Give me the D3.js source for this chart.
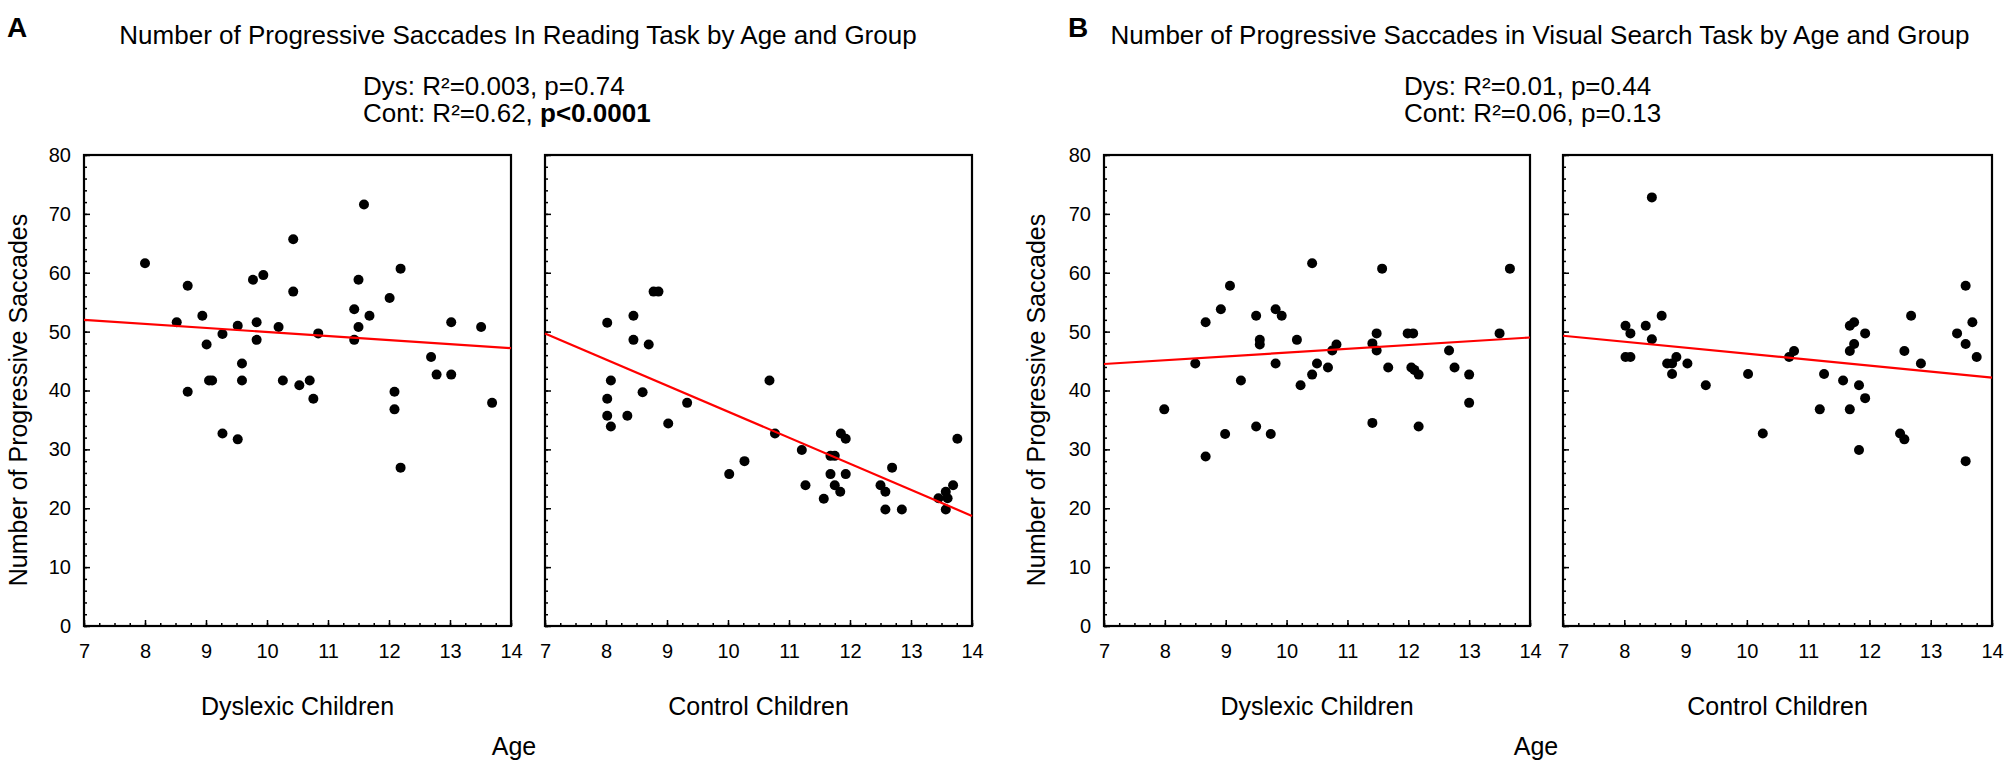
<!DOCTYPE html>
<html>
<head>
<meta charset="utf-8">
<script src="https://cdn.jsdelivr.net/npm/d3@7"></script>
<style>
body { margin: 0; background: #fff; }
text { font-family: "Liberation Sans", Arial, sans-serif; fill: #000; }
</style>
</head>
<body>
<svg id="chart" width="2008" height="764"></svg>
<script>
// [age, number of progressive saccades]
var readingDys = [[8.00,61.6],[8.52,51.6],[8.70,57.8],[8.70,39.8],[8.94,52.7],[9.01,47.8],[9.05,41.7],[9.10,41.7],
    [9.27,49.6],[9.27,32.7],[9.52,51.0],[9.52,31.7],[9.59,44.6],[9.59,41.7],[9.77,58.8],[9.83,51.6],[9.83,48.6],
    [9.94,59.6],[10.19,50.8],[10.26,41.7],[10.43,65.7],[10.43,56.8],[10.53,40.9],[10.70,41.7],[10.76,38.6],
    [10.84,49.7],[11.43,53.8],[11.43,48.6],[11.50,58.8],[11.50,50.8],[11.59,71.6],[11.68,52.7],[12.01,55.7],
    [12.09,39.8],[12.09,36.8],[12.19,60.7],[12.19,26.9],[12.69,45.7],[12.78,42.7],[13.02,42.7],[13.02,51.6],
    [13.51,50.8],[13.69,37.9]];
var readingCont = [[8.02,51.5],[8.45,52.7],[8.45,48.6],[8.78,56.8],[8.86,56.8],[8.70,47.8],[8.08,41.7],[8.02,38.6],
    [8.60,39.7],[8.02,35.7],[8.35,35.7],[8.08,33.9],[9.02,34.4],[9.33,37.9],[10.02,25.8],[10.27,28.0],[10.68,41.7],
    [10.77,32.7],[11.21,29.9],[11.27,23.9],[11.57,21.6],[11.68,28.9],[11.75,28.9],[11.68,25.8],[11.75,23.9],
    [11.84,22.8],[11.85,32.7],[11.93,31.8],[11.93,25.8],[12.50,23.9],[12.58,22.8],[12.58,19.8],[12.69,26.9],
    [12.85,19.8],[13.45,21.7],[13.57,22.8],[13.60,21.7],[13.57,19.8],[13.69,23.9],[13.76,31.8]];
var searchDys = [[7.99,36.8],[8.50,44.6],[8.67,51.6],[8.67,28.8],[8.92,53.8],[9.07,57.8],[8.99,32.6],[9.25,41.7],
    [9.50,52.7],[9.56,48.6],[9.56,47.8],[9.50,33.9],[9.74,32.6],[9.82,53.8],[9.92,52.7],[9.82,44.6],[10.17,48.6],
    [10.23,40.9],[10.42,61.6],[10.42,42.7],[10.50,44.6],[10.68,43.9],[10.75,46.8],[10.82,47.8],[11.41,34.5],
    [11.41,48.0],[11.48,49.7],[11.48,46.8],[11.57,60.7],[11.67,43.9],[11.99,49.7],[12.08,49.7],[12.05,43.9],
    [12.10,43.5],[12.17,42.7],[12.17,33.9],[12.67,46.8],[12.76,43.9],[13.00,42.7],[13.00,37.9],[13.50,49.7],
    [13.67,60.7]];
var searchCont = [[8.45,72.8],[8.02,51.0],[8.10,49.7],[8.02,45.7],[8.10,45.7],[8.35,51.0],[8.45,48.7],[8.61,52.7],
    [8.70,44.6],[8.78,42.8],[8.78,44.6],[8.85,45.7],[9.03,44.6],[9.33,40.9],[10.02,42.8],[10.26,32.7],[10.69,45.7],
    [10.77,46.7],[11.19,36.8],[11.26,42.8],[11.57,41.7],[11.68,51.0],[11.75,51.6],[11.68,46.7],[11.75,47.9],
    [11.68,36.8],[11.83,40.9],[11.93,38.7],[11.93,49.7],[11.83,29.9],[12.50,32.7],[12.57,31.7],[12.57,46.7],
    [12.68,52.7],[12.84,44.6],[13.43,49.7],[13.57,57.8],[13.57,47.9],[13.68,51.6],[13.75,45.7],[13.57,28.0]];

// fitted line values at age 7 and age 14
var readingDysFit = [52.0, 47.2];
var readingContFit = [49.7, 18.7];
var searchDysFit = [44.5, 49.0];
var searchContFit = [49.3, 42.2];

var ageRange = [7, 14];
var countRange = [0, 80];
var groupNames = ["Dyslexic Children", "Control Children"];

var svg = d3.select("#chart");
var top_ = 155, bottom = 626;

var y = d3.scaleLinear().domain(countRange).range([bottom, top_]);

function drawPanel(x0, x1, points, fit, showLabels, groupName) {
    var x = d3.scaleLinear().domain(ageRange).range([x0, x1]);
    var g = svg.append("g");

    // minor ticks
    g.append("g")
        .attr("transform", "translate(" + x0 + ",0)")
        .call(d3.axisLeft(y).tickValues(d3.range(0, 81, 2)).tickSize(-3).tickFormat(""))
        .call(function (s) { s.select(".domain").remove(); s.selectAll("line").attr("stroke-width", 1.5); });
    g.append("g")
        .attr("transform", "translate(0," + bottom + ")")
        .call(d3.axisBottom(x).tickValues(d3.range(7, 14.01, 0.25)).tickSize(-3).tickFormat(""))
        .call(function (s) { s.select(".domain").remove(); s.selectAll("line").attr("stroke-width", 1.5); });

    // major ticks + labels
    var ya = g.append("g")
        .attr("transform", "translate(" + x0 + ",0)")
        .call(d3.axisLeft(y).tickValues(d3.range(0, 81, 10)).tickSize(-6).tickPadding(13)
            .tickFormat(showLabels ? d3.format("d") : ""));
    ya.select(".domain").remove();
    ya.selectAll("line").attr("stroke-width", 1.5);
    ya.selectAll("text").style("font-size", "20px").attr("fill", "#000");

    var xa = g.append("g")
        .attr("transform", "translate(0," + bottom + ")")
        .call(d3.axisBottom(x).tickValues(d3.range(7, 15, 1)).tickSize(-6).tickPadding(18).tickFormat(d3.format("d")));
    xa.select(".domain").remove();
    xa.selectAll("line").attr("stroke-width", 1.5);
    xa.selectAll("text").style("font-size", "20px").attr("fill", "#000");

    // frame
    g.append("rect")
        .attr("x", x0).attr("y", top_)
        .attr("width", x1 - x0).attr("height", bottom - top_)
        .attr("fill", "none").attr("stroke", "#000").attr("stroke-width", 2.2);

    // points
    g.selectAll("circle")
        .data(points)
        .enter().append("circle")
        .attr("cx", function (d) { return x(d[0]); })
        .attr("cy", function (d) { return y(d[1]); })
        .attr("r", 5)
        .attr("fill", "#000");

    // regression line
    g.append("line")
        .attr("x1", x(ageRange[0])).attr("y1", y(fit[0]))
        .attr("x2", x(ageRange[1])).attr("y2", y(fit[1]))
        .attr("stroke", "#f00").attr("stroke-width", 2.2);

    g.append("text")
        .attr("x", (x0 + x1) / 2).attr("y", 715)
        .attr("text-anchor", "middle")
        .style("font-size", "25px")
        .text(groupName);
}

function drawFigure(letter, letterX, title, titleX, statX, dysStat, contStat, contBold, yTitleX, ageX) {
    svg.append("text").attr("x", letterX).attr("y", 37)
        .style("font-size", "28px").style("font-weight", "bold").text(letter);
    svg.append("text").attr("x", titleX).attr("y", 44)
        .attr("text-anchor", "middle").style("font-size", "26px").text(title);
    svg.append("text").attr("x", statX).attr("y", 95)
        .style("font-size", "26px").text(dysStat);
    var c = svg.append("text").attr("x", statX).attr("y", 122).style("font-size", "26px");
    c.append("tspan").text(contStat);
    if (contBold) c.append("tspan").style("font-weight", "bold").text(contBold);
    svg.append("text")
        .attr("transform", "translate(" + yTitleX + "," + 400 + ") rotate(-90)")
        .attr("text-anchor", "middle").style("font-size", "25px")
        .text("Number of Progressive Saccades");
    svg.append("text").attr("x", ageX).attr("y", 755)
        .attr("text-anchor", "middle").style("font-size", "25px").text("Age");
}

drawPanel(84, 511, readingDys, readingDysFit, true, groupNames[0]);
drawPanel(545, 972, readingCont, readingContFit, false, groupNames[1]);
drawPanel(1104, 1530, searchDys, searchDysFit, true, groupNames[0]);
drawPanel(1563, 1992, searchCont, searchContFit, false, groupNames[1]);

drawFigure("A", 7, "Number of Progressive Saccades In Reading Task by Age and Group", 518, 363,
    "Dys: R\u00b2=0.003, p=0.74", "Cont: R\u00b2=0.62, ", "p<0.0001", 27, 514);
drawFigure("B", 1068, "Number of Progressive Saccades in Visual Search Task by Age and Group", 1540, 1404,
    "Dys: R\u00b2=0.01, p=0.44", "Cont: R\u00b2=0.06, p=0.13", null, 1045, 1536);
</script>
</body>
</html>
